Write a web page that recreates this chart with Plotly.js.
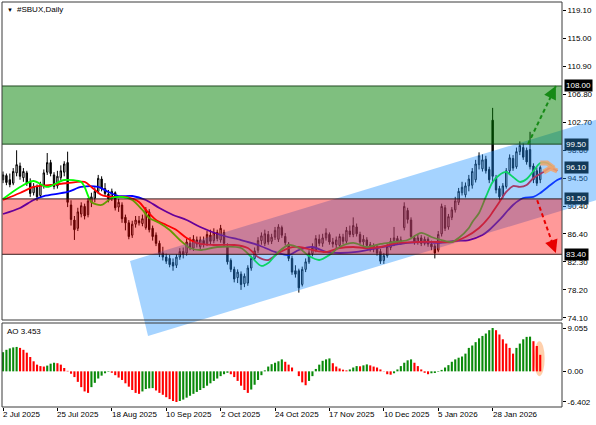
<!DOCTYPE html>
<html><head><meta charset="utf-8">
<script src="https://cdn.plot.ly/plotly-3.0.1.min.js"></script>
<style>html,body{margin:0;padding:0;background:#fff}#chart{width:596px;height:425px}</style>
</head><body><div id="chart"></div>
<script>
// ---------------- DATA ----------------
const tickIdx = [0,16,32,48,64,80,96,112,128,144];
const tickLabels = ["2 Jul 2025","25 Jul 2025","18 Aug 2025","10 Sep 2025","2 Oct 2025","24 Oct 2025","17 Nov 2025","10 Dec 2025","5 Jan 2026","28 Jan 2026"];

const open = [94.3,94.9,94.3,93.8,95.3,96.3,94.6,95.3,94.0,92.4,93.2,92.0,93.5,95.4,96.8,95.0,93.4,94.6,95.4,96.8,
90.6,88.4,87.2,89.3,90.4,89.2,91.0,91.6,92.6,94.4,93.0,92.2,91.6,92.4,90.3,90.6,88.8,88.0,86.2,87.8,
88.3,87.9,87.3,89.6,87.2,86.2,85.0,83.6,83.0,82.8,82.2,81.8,83.0,83.8,83.6,85.0,84.3,85.5,84.5,85.4,
85.0,86.2,85.4,86.6,85.5,86.6,84.6,82.5,81.2,80.0,80.5,79.1,79.2,81.4,82.8,84.0,85.4,85.0,86.3,85.3,
85.9,85.6,87.3,86.0,84.9,82.8,81.0,81.0,79.0,81.2,82.3,83.5,84.0,85.6,85.0,85.8,86.3,85.2,84.8,84.7,
85.9,85.3,86.8,86.3,87.4,86.3,85.2,85.5,84.8,84.2,84.5,83.8,82.5,83.2,84.4,85.0,85.7,85.2,87.3,89.8,
88.4,85.8,85.2,85.8,85.0,85.6,84.9,84.6,84.0,86.4,90.2,87.4,88.8,89.9,91.0,92.4,92.1,93.4,93.5,94.3,
96.5,95.9,97.3,95.8,103.0,94.6,93.0,92.0,93.3,95.6,97.4,96.2,98.4,99.0,98.6,98.7,96.3,95.6,94.3];
const high = [95.5,95.2,95.2,96.0,98.6,96.8,96.0,95.6,94.5,93.8,93.6,94.0,95.8,98.2,97.2,95.4,95.6,96.4,97.0,98.4,
91.3,89.0,90.2,91.0,90.8,91.6,92.4,93.2,95.0,94.8,93.8,92.8,93.0,92.6,91.5,91.0,89.2,88.4,88.3,89.0,
89.0,89.2,90.3,90.0,87.6,86.6,85.4,84.5,83.5,83.3,82.8,83.4,84.3,84.4,85.7,85.9,86.2,86.0,86.0,86.0,
86.8,87.0,87.2,87.0,87.7,87.0,85.0,82.8,81.6,81.2,80.9,80.6,81.8,83.2,84.4,85.9,86.6,87.0,86.8,86.4,
87.4,87.8,87.6,86.5,85.2,83.2,81.8,81.3,81.6,82.8,84.0,85.0,86.2,86.3,86.4,87.2,86.6,85.8,86.0,86.4,
86.4,87.4,87.6,88.8,87.9,86.7,86.2,85.9,85.2,85.0,84.9,84.2,83.6,84.9,85.8,87.4,86.1,86.0,91.0,90.2,
88.8,86.2,86.3,86.2,86.0,85.9,85.4,84.9,86.8,90.8,90.6,89.3,90.3,91.8,93.1,94.0,93.9,95.0,96.0,97.2,
98.3,98.0,97.8,96.2,104.8,95.0,93.4,93.8,96.0,98.0,97.9,99.0,99.9,99.6,99.0,101.3,96.7,96.1,96.4];
const low = [93.8,93.5,93.2,93.5,94.8,94.3,94.0,93.4,91.8,92.0,91.2,91.7,93.0,95.0,94.8,92.9,93.0,94.2,94.8,90.3,
87.6,85.5,86.8,88.8,88.5,88.8,90.3,91.0,92.2,92.6,91.9,91.0,91.2,89.8,89.6,88.0,86.9,85.6,85.8,87.3,
87.6,87.5,87.0,86.6,85.4,84.6,83.0,82.5,82.0,81.5,81.0,81.4,82.6,82.8,83.2,84.0,83.9,84.4,84.0,84.4,
84.6,84.9,85.0,85.3,85.1,84.6,81.9,80.8,79.3,79.2,78.2,78.6,78.8,81.0,82.4,83.6,84.8,84.6,84.8,84.9,
85.5,85.2,85.8,84.7,82.4,80.4,80.0,77.8,78.7,80.8,82.0,83.1,83.7,84.6,84.5,85.4,84.8,84.4,84.3,84.3,
84.9,85.0,85.9,85.9,86.0,84.9,84.6,84.3,83.8,83.7,83.2,82.0,82.0,82.9,84.0,84.6,84.8,84.8,86.9,87.9,
85.6,84.8,84.8,84.6,84.7,84.5,84.0,82.8,83.7,86.0,86.8,87.0,88.4,89.5,90.6,92.0,91.7,92.6,93.0,93.9,
95.8,95.5,95.2,93.8,93.8,92.3,91.3,91.6,93.0,95.2,95.6,95.9,97.9,97.2,96.5,95.8,93.8,93.4,93.8];
const close = [95.0,93.9,93.6,95.5,96.5,94.8,95.5,93.8,92.3,93.3,91.8,93.6,95.3,96.8,95.2,93.3,94.8,95.6,96.6,91.0,
88.5,87.0,89.6,90.5,89.0,91.2,91.8,92.6,94.5,93.0,92.3,91.5,92.6,90.2,91.0,88.6,88.0,86.0,87.8,88.4,
88.0,88.6,89.9,87.0,86.0,85.0,83.5,83.0,82.4,81.9,81.7,83.0,83.8,83.4,85.2,84.4,85.6,84.9,85.5,84.9,
86.3,85.3,86.6,85.7,87.2,85.0,82.3,81.2,79.8,80.8,79.0,80.2,81.4,82.8,83.9,85.4,86.1,86.4,85.2,85.9,
86.9,87.4,86.2,85.1,82.8,80.8,80.5,78.5,81.2,82.3,83.6,84.4,85.7,85.0,85.8,86.5,85.2,84.9,85.5,86.0,
85.3,86.9,86.3,87.6,86.4,85.2,85.6,84.7,84.2,84.6,83.6,82.4,83.2,84.5,85.3,85.8,85.2,85.5,90.4,88.5,
86.0,85.2,85.8,85.0,85.6,84.9,84.5,83.6,86.3,90.4,87.2,88.9,89.9,91.2,92.6,93.2,93.4,94.4,95.5,96.6,
97.8,97.2,95.6,94.3,94.8,92.8,91.8,93.4,95.6,97.5,96.0,98.4,99.3,97.6,96.9,96.2,94.3,93.8,96.1];

const ao = [4.0,4.5,4.8,5.0,5.1,4.9,4.5,3.9,3.0,2.1,1.4,1.1,1.0,1.2,1.6,1.8,1.7,1.4,0.7,0.1,
-0.5,-1.2,-2.2,-3.3,-4.2,-4.5,-3.3,-2.4,-1.5,-0.9,-0.4,-0.1,-0.3,-0.8,-1.3,-1.8,-2.5,-3.2,-3.9,-4.5,
-4.7,-4.2,-3.7,-3.55,-3.5,-4.0,-4.5,-4.9,-5.4,-5.8,-6.2,-6.4,-6.2,-5.9,-5.5,-5.1,-4.7,-4.3,-3.9,-3.5,
-3.0,-2.5,-2.0,-1.5,-1.0,-0.6,-0.3,-0.6,-1.2,-2.0,-3.0,-3.9,-4.5,-3.8,-2.8,-1.8,-0.8,0.2,1.0,1.5,
1.8,2.1,2.5,2.0,1.4,0.8,0.0,-1.0,-2.3,-2.9,-2.0,-1.0,0.5,1.4,2.2,2.5,2.7,1.7,1.0,0.6,
0.35,0.2,0.4,0.8,1.1,1.05,1.25,1.45,1.25,1.0,0.8,0.4,0.05,-0.6,-0.7,-0.4,0.4,1.1,1.8,2.3,
2.5,1.8,1.1,0.4,-0.3,-0.6,-0.4,-0.35,-0.1,0.3,0.8,1.3,2.0,2.5,2.85,3.1,3.7,4.9,5.4,6.1,
6.9,7.4,7.9,8.6,9.055,8.6,7.7,6.7,5.8,4.9,3.7,4.9,5.8,6.7,7.2,7.25,6.3,5.3,3.453];

// Alligator lines (bar index, price)
const lipsX = [0,5,9,13,18,23,24,26,29,32,35,38,41,43,46,49,52,55,58,63,70,73,76,78,81,84,87,90,93,96,99,103,107,111,115,119,123,126,129,132,134,137,138,140,142,144,146,148,150,152,154,156,158,160,162];
const lipsY = [91.48,93.24,94.11,93.24,94.26,93.97,93.24,91.05,90.61,91.63,91.78,91.34,89.88,88.71,87.98,86.95,85.49,84.32,84.03,84.47,84.32,83.01,81.70,82.13,83.74,84.76,84.32,83.15,82.57,83.30,84.47,85.06,84.47,84.91,85.20,85.49,86.52,85.93,85.49,85.20,85.79,87.25,88.10,89.44,91.78,93.97,94.99,95.43,94.70,93.97,94.41,95.58,96.74,96.74,96.01];
const teethX = [0,5,9,14,19,24,26,29,32,36,40,42,45,48,51,54,58,62,68,72,75,78,81,84,87,91,95,99,103,107,111,116,122,128,132,136,140,143,144,146,148,150,152,154,156,159,161,163];
const teethY = [91.34,92.36,93.24,93.53,93.82,93.97,93.24,92.07,91.78,91.78,91.05,89.88,88.42,87.69,86.95,85.79,84.91,84.76,84.76,84.32,83.01,82.57,83.59,84.32,84.47,84.03,83.74,84.32,84.47,84.32,84.47,85.06,85.20,85.20,85.20,85.93,87.25,88.85,89.58,91.05,92.51,93.38,93.24,93.53,94.55,95.43,96.01,95.58];
const jawX = [0,5,9,12,19,23,28,31,34,38,42,46,50,54,58,64,70,75,80,84,87,91,95,99,104,110,115,119,123,128,133,137,141,143,146,150,153,156,158,161,163,166];
const jawY = [89.29,90.17,91.34,91.92,92.51,93.24,93.24,92.51,91.92,91.92,91.34,90.17,89.15,88.42,87.39,86.22,85.49,84.76,83.74,83.30,84.03,84.47,83.74,83.59,83.74,84.32,84.76,85.06,85.20,85.06,85.35,85.49,86.22,86.95,88.42,90.61,91.63,91.78,92.36,93.53,94.26,94.84];

const priceTicks = [119.10,115.00,110.90,106.80,102.70,98.60,94.50,90.40,86.40,82.30,78.20,74.10];
const aoTicks = [9.055,0,-6.402];
const aoTickText = ["9.055","0.00","-6.402"];
const levelValues = [108.00,99.50,96.10,91.50,83.40];
const greenZone = [99.50,108.00];
const redZone = [83.40,91.50];
// equidistant channel anchors (bar index, price)
const chanUpperX = [37.35,174.4], chanUpperY = [82.43,103.06];
const chanLowerX = [42.65,174.4], chanLowerY = [71.47,91.29];
// forecast arrows (bar index, price)
const upArrowX = [154.4,162.6], upArrowY = [99.5,108.0];
const downArrowX = [157.1,162.6], downArrowY = [91.3,83.6];
const aoLabel = "AO 3.453";
const chartTitle = "#SBUX,Daily";

// ---------------- LAYOUT CONSTANTS ----------------
const X_RANGE = [-0.3, 164.4];
const Y_RANGE = [73.80, 120.27];
const AO_RANGE = [-7.45, 10.1];
const MAIN_DOM = [0.2148, 1];
const AO_DOM = [0, 0.2074];
const FONT = "Liberation Sans, Arial, sans-serif";

function xp(i){ return (i - X_RANGE[0])/(X_RANGE[1]-X_RANGE[0]); }
function yp(p){ return MAIN_DOM[0] + (p - Y_RANGE[0])/(Y_RANGE[1]-Y_RANGE[0])*(MAIN_DOM[1]-MAIN_DOM[0]); }
function tailPath(xs, ys, from){
  const pts = xs.map((x, k) => [x, ys[k]]).filter(p => p[0] >= from);
  return pts.map((p, k) => (k ? 'L ' : 'M ') + p[0] + ' ' + p[1]).join(' ');
}

const idx = open.map((_, i) => i);
const aoColors = ao.map((v, i) => (i === 0 || v > ao[i-1]) ? '#0a8a0a' : '#ff0000');

const traces = [
  {type:'candlestick', x: idx, open, high, low, close, xaxis:'x', yaxis:'y',
   increasing:{line:{color:'#000', width:1}, fillcolor:'#ffffff'},
   decreasing:{line:{color:'#000', width:1}, fillcolor:'#000000'},
   whiskerwidth:0, hoverinfo:'none', showlegend:false},
  {type:'scatter', mode:'lines', x: jawX, y: jawY, xaxis:'x', yaxis:'y',
   line:{color:'#0000ff', width:1.8, shape:'spline', smoothing:0.8}, hoverinfo:'none'},
  {type:'scatter', mode:'lines', x: teethX, y: teethY, xaxis:'x', yaxis:'y',
   line:{color:'#ff0000', width:1.8, shape:'spline', smoothing:0.8}, hoverinfo:'none'},
  {type:'scatter', mode:'lines', x: lipsX, y: lipsY, xaxis:'x', yaxis:'y',
   line:{color:'#00ff00', width:1.8, shape:'spline', smoothing:0.8}, hoverinfo:'none'},
  {type:'bar', x: idx, y: ao, xaxis:'x', yaxis:'y2', width:0.62,
   marker:{color: aoColors, line:{width:0}}, hoverinfo:'none'}
];

const shapes = [];
// channel (drawn unclipped, like the terminal object)
shapes.push({type:'path', xref:'paper', yref:'paper', layer:'above',
  path: `M ${xp(chanUpperX[0])} ${yp(chanUpperY[0])} L ${xp(chanUpperX[1])} ${yp(chanUpperY[1])} L ${xp(chanLowerX[1])} ${yp(chanLowerY[1])} L ${xp(chanLowerX[0])} ${yp(chanLowerY[0])} Z`,
  fillcolor:'rgba(30,144,255,0.4)', line:{width:0}});
// zones
shapes.push({type:'rect', xref:'x', yref:'y', layer:'above', x0:-5, x1:175, y0: greenZone[0], y1: greenZone[1],
  fillcolor:'rgba(0,128,0,0.5)', line:{color:'rgba(20,60,20,0.9)', width:1}});
shapes.push({type:'rect', xref:'x', yref:'y', layer:'above', x0:-5, x1:175, y0: redZone[0], y1: redZone[1],
  fillcolor:'rgba(255,0,0,0.4)', line:{color:'rgba(40,10,10,0.9)', width:1}});
// forecast glow on the alligator ends
shapes.push({type:'path', xref:'x', yref:'y', layer:'above', path: tailPath(lipsX, lipsY, 158),
  line:{color:'rgba(240,165,110,0.85)', width:5}});
shapes.push({type:'path', xref:'x', yref:'y', layer:'above', path: tailPath(teethX, teethY, 158),
  line:{color:'rgba(240,165,110,0.85)', width:5}});
// arrows
shapes.push({type:'line', xref:'x', yref:'y', layer:'above', x0: upArrowX[0], y0: upArrowY[0], x1: upArrowX[1], y1: upArrowY[1],
  line:{color:'#168a16', width:2, dash:'4px,3px'}});
shapes.push({type:'line', xref:'x', yref:'y', layer:'above', x0: downArrowX[0], y0: downArrowY[0], x1: downArrowX[1], y1: downArrowY[1],
  line:{color:'#e80000', width:2, dash:'4px,3px'}});
// AO glow
shapes.push({type:'circle', xref:'x', yref:'y2', layer:'below', x0:156.2, x1:159.3, y0:-1.0, y1:6.3,
  fillcolor:'rgba(255,150,70,0.45)', line:{width:0}});
// frames
shapes.push({type:'rect', xref:'paper', yref:'paper', layer:'above', x0:0, x1:1, y0: MAIN_DOM[0], y1: MAIN_DOM[1],
  line:{color:'#3a3a3a', width:1}, fillcolor:'rgba(0,0,0,0)'});
shapes.push({type:'rect', xref:'paper', yref:'paper', layer:'above', x0:0, x1:1, y0: AO_DOM[0], y1: AO_DOM[1],
  line:{color:'#3a3a3a', width:1}, fillcolor:'rgba(0,0,0,0)'});

const annotations = [];
annotations.push({xref:'paper', yref:'paper', x:0, y:1, xshift:3, yshift:-3, xanchor:'left', yanchor:'top',
  text:'▼', showarrow:false, font:{family:FONT, size:6, color:'#000'}});
annotations.push({xref:'paper', yref:'paper', x:0, y:1, xshift:13, yshift:-1, xanchor:'left', yanchor:'top',
  text: chartTitle, showarrow:false, font:{family:FONT, size:8, color:'#000'}});
annotations.push({xref:'paper', yref:'paper', x:0, y: AO_DOM[1], xshift:3, yshift:-2, xanchor:'left', yanchor:'top',
  text: aoLabel, showarrow:false, font:{family:FONT, size:8, color:'#000'}});
tickIdx.forEach((t, k) => annotations.push({xref:'x', yref:'paper', x:t, y:0, xanchor:'left', yanchor:'top',
  xshift:-2, yshift:-1, text: tickLabels[k], showarrow:false, font:{family:FONT, size:8, color:'#000'}}));
const levelBg = ['#000000','#123a5a','#123a5a','#123a5a','#000000'];
levelValues.forEach((v, k) => annotations.push({xref:'paper', yref:'y', x:1, y:v, xanchor:'left', yanchor:'middle',
  xshift:2, text: v.toFixed(2), showarrow:false, bgcolor: levelBg[k], borderpad:1,
  font:{family:FONT, size:8, color:'#ffffff'}}));
// arrow heads
annotations.push({xref:'x', yref:'y', x: upArrowX[1], y: upArrowY[1], text:'', showarrow:true,
  ax:-4, ay:8, arrowhead:2, arrowsize:1.3, arrowwidth:2, arrowcolor:'#168a16'});
annotations.push({xref:'x', yref:'y', x: downArrowX[1], y: downArrowY[1], text:'', showarrow:true,
  ax:-3, ay:-8, arrowhead:2, arrowsize:1.3, arrowwidth:2, arrowcolor:'#e80000'});

const layout = {
  width:596, height:425,
  margin:{l:2, r:34, t:2, b:18, pad:0},
  paper_bgcolor:'#ffffff', plot_bgcolor:'#ffffff',
  showlegend:false, boxgap:0.42,
  font:{family:FONT, size:8, color:'#000'},
  xaxis:{range:X_RANGE, anchor:'y2', showgrid:false, zeroline:false, showline:false,
    tickmode:'array', tickvals: tickIdx, ticks:'outside', ticklen:3, tickcolor:'#000',
    showticklabels:false, rangeslider:{visible:false}, fixedrange:true},
  yaxis:{domain:MAIN_DOM, range:Y_RANGE, side:'right', anchor:'x', showgrid:false, zeroline:false,
    showline:false, tickmode:'array', tickvals: priceTicks, ticktext: priceTicks.map(v => v.toFixed(2)),
    ticks:'outside', ticklen:3, tickcolor:'#000', tickfont:{family:FONT, size:8, color:'#000'}, fixedrange:true},
  yaxis2:{domain:AO_DOM, range:AO_RANGE, side:'right', anchor:'x', showgrid:false, zeroline:false,
    showline:false, tickmode:'array', tickvals: aoTicks, ticktext: aoTickText,
    ticks:'outside', ticklen:3, tickcolor:'#000', tickfont:{family:FONT, size:8, color:'#000'}, fixedrange:true},
  shapes, annotations
};

Plotly.newPlot('chart', traces, layout, {staticPlot:true, displayModeBar:false});
</script>
</body></html>
